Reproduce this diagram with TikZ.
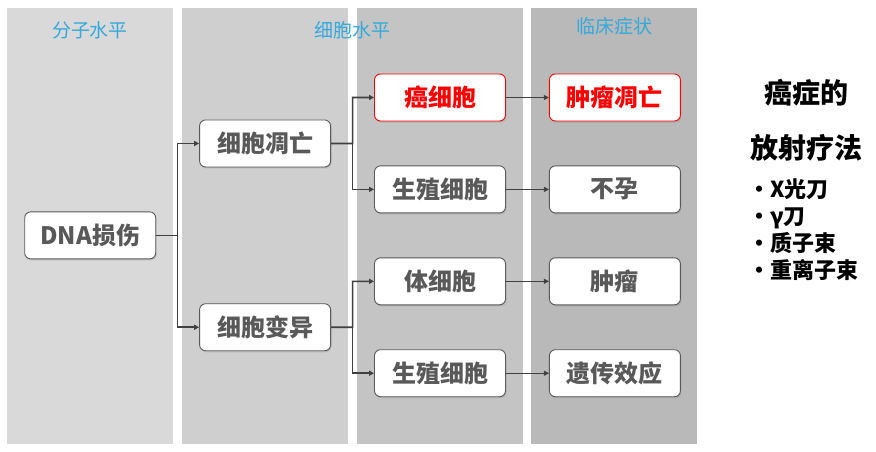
\documentclass[tikz,border=0pt]{standalone}
\usepackage{fontspec}
\setmainfont{Noto Sans CJK SC}
\usepackage{xcolor}
\usetikzlibrary{arrows.meta,positioning,calc,shadows}

\definecolor{txtgray}{HTML}{595959}
\definecolor{linegray}{HTML}{404040}
\definecolor{headblue}{HTML}{35A9DA}
\definecolor{laneA}{HTML}{D9D9D9}
\definecolor{laneB}{HTML}{CFCFCF}
\definecolor{laneC}{HTML}{C4C4C4}
\definecolor{laneD}{HTML}{B9B9B9}

\begin{document}
\begin{tikzpicture}[
  x=1pt, y=-1pt,
  node distance=44pt and 43pt,
  box/.style={draw=txtgray, line width=0.9pt, rounded corners=6pt, fill=white,
              minimum width=131pt, minimum height=47pt, text=txtgray,
              font=\fontsize{24}{28}\selectfont\bfseries,
              drop shadow={shadow xshift=1pt, shadow yshift=-1.5pt, opacity=.3}},
  hot/.style={box, draw=red, text=red},
  head/.style={font=\fontsize{19}{22}\selectfont, text=headblue},
  ar/.style={-{Triangle[length=5pt,width=5pt]}, line width=1.6pt, draw=linegray},
  arthin/.style={-{Triangle[length=5pt,width=5pt]}, line width=0.9pt, draw=linegray}
]
  \useasboundingbox (0,0) rectangle (876,451);
  % lanes
  \fill[laneA] (7,8) rectangle (173,444);
  \fill[laneB] (182,8) rectangle (348,444);
  \fill[laneC] (357,8) rectangle (523,444);
  \fill[laneD] (531,8) rectangle (697,444);
  \node[head] (h1) at (90,30.5) {分子水平};
  \node[head] (h2) at (352,30) {细胞水平};
  \node[head] (h3) at (614,26) {临床症状};

  % cell level
  \node[hot] (cancer) at (440,97.5) {癌细胞};
  \node[box, below=of cancer] (germa) {生殖细胞};
  \node[box, below=of germa] (soma) {体细胞};
  \node[box, below=of soma] (germb) {生殖细胞};
  % clinical symptoms
  \node[hot, right=of cancer] (shrink) {肿瘤凋亡};
  \node[box, right=of germa] (infert) {不孕};
  \node[box, right=of soma] (tumor) {肿瘤};
  \node[box, right=of germb] (hered) {遗传效应};
  % left columns
  \node[box, left=of $(cancer.west)!.5!(germa.west)$] (apop) {细胞凋亡};
  \node[box, left=of $(soma.west)!.5!(germb.west)$] (vari) {细胞变异};
  \node[box, left=of $(apop.west)!.5!(vari.west)$] (dna) {DNA损伤};

  \coordinate (fork1) at ($(dna.east)!.5!(dna.east -| apop.west)$);
  \draw[ar] (dna.east) -- (fork1) |- (apop.west);
  \draw[ar] (fork1) |- (vari.west);
  \coordinate (fork2) at ($(apop.east)!.5!(apop.east -| cancer.west)$);
  \draw[ar] (apop.east) -- (fork2) |- (cancer.west);
  \draw[ar] (fork2) |- (germa.west);
  \coordinate (fork3) at ($(vari.east)!.5!(vari.east -| soma.west)$);
  \draw[ar] (vari.east) -- (fork3) |- (soma.west);
  \draw[ar] (fork3) |- (germb.west);
  \foreach \a/\b in {cancer/shrink, germa/infert, soma/tumor, germb/hered}
    \draw[arthin] (\a) -- (\b);

  % right text
  \node[font=\fontsize{28}{32}\selectfont\bfseries] (t1) at (806,93) {癌症的};
  \node[font=\fontsize{28}{32}\selectfont\bfseries] (t2) at (806,148) {放射疗法};
  \node[font=\fontsize{22}{27}\selectfont\bfseries, align=left, anchor=north west,
        inner sep=0pt] (methods) at (748,178) {・X光刀\\・γ刀\\・质子束\\・重离子束};
\end{tikzpicture}
\end{document}
